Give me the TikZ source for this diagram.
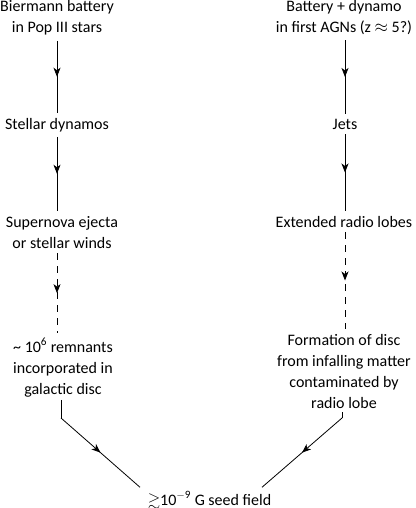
\documentclass[tikz,border=0pt]{standalone}
\usepackage{fontspec}
\usepackage{amssymb}
\setmainfont{Carlito}
\usetikzlibrary{decorations.markings,arrows.meta}
\tikzset{
  lbl/.style={font=\fontsize{16}{21}\selectfont, align=center, inner sep=0pt, anchor=base},
  midarrow/.style={postaction={decorate}, decoration={markings, mark=at position 0.5 with {\arrow{Stealth[length=9pt,width=7pt,inset=2.5pt]}}}},
  conn/.style={line width=0.8pt, midarrow, shorten <=5pt, shorten >=5pt},
  dconn/.style={conn, dash pattern=on 7pt off 6pt},
  plain/.style={line width=0.8pt},
}
\begin{document}
\begin{tikzpicture}[x=1pt,y=-1pt]
\useasboundingbox (0,0) rectangle (415,508);
% left column (anchor base = baseline of last line)
\node[lbl] (L1) at (57,33) {Biermann battery\\in Pop III stars};
\node[lbl] (L2) at (57,129) {Stellar dynamos};
\node[lbl] (L3) at (62,248) {Supernova ejecta\\or stellar winds};
\node[lbl] (L4) at (63,394) {\textasciitilde{} 10\textsuperscript{6} remnants\\incorporated in\\galactic disc};
% right column
\node[lbl] (R1) at (344,33) {Battery + dynamo\\in first AGNs (z $\approx$ 5?)};
\node[lbl] (R2) at (345,129) {Jets};
\node[lbl] (R3) at (344,227) {Extended radio lobes};
\node[lbl] (R4) at (344,408) {Formation of disc\\from infalling matter\\contaminated by\\radio lobe};
% bottom
\node[lbl] (S) at (209.5,505) {$\gtrsim$10\textsuperscript{$-$9} G seed field};
\coordinate (lb) at (61,418);
\coordinate (rb) at (342,418);
% connectors
\draw[conn] (L1.south -| 57,0) -- (L2.north -| 57,0);
\draw[conn] (L2.south -| 57,0) -- (L3.north -| 57,0);
\draw[dconn] (L3.south -| 57,0) -- (L4.north -| 57,0);
\draw[conn] (R1.south -| 345,0) -- (R2.north -| 345,0);
\draw[conn] (R2.south -| 345,0) -- (R3.north -| 345,0);
\draw[dconn] (R3.south -| 345,0) -- (R4.north -| 345,0);
\draw[plain, shorten <=3pt] (L4.south -| lb) -- (lb);
\draw[plain, shorten <=4pt] (R4.south -| rb) -- (rb);
\draw[plain, midarrow] (lb) -- ([xshift=-69.5pt,yshift=4pt]S.north);
\draw[plain, midarrow] (rb) -- ([xshift=52.5pt,yshift=4pt]S.north);
\end{tikzpicture}
\end{document}
